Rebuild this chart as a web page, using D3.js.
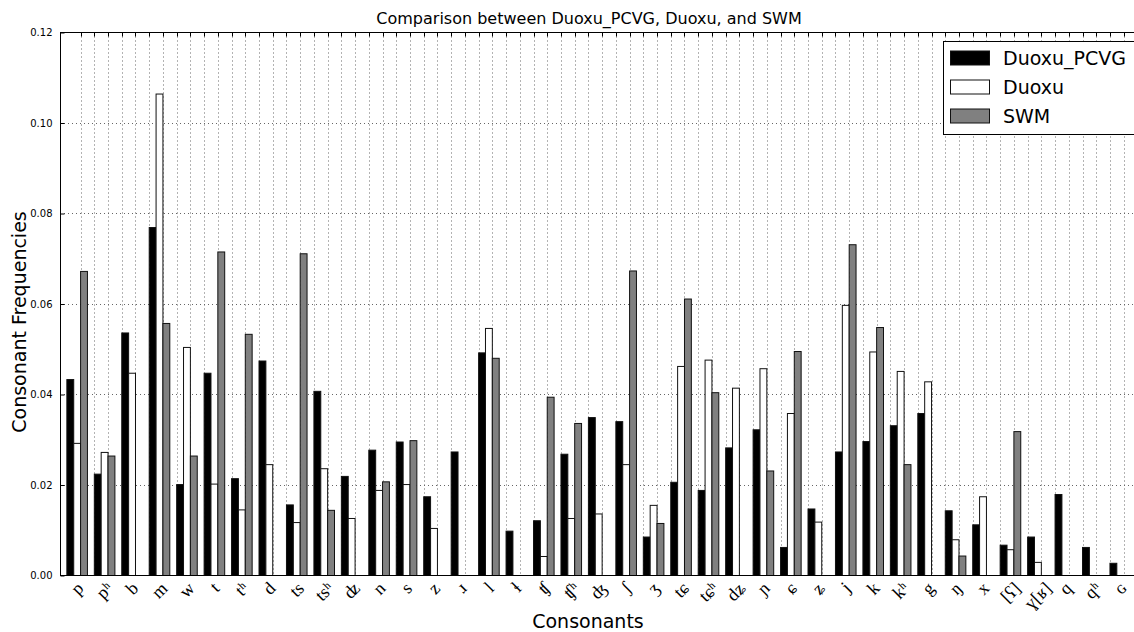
<!DOCTYPE html>
<html>
<head>
<meta charset="utf-8">
<script src="https://cdn.jsdelivr.net/npm/d3@7"></script>
<style>
  html, body { margin: 0; padding: 0; background: #fff; overflow: hidden; }
  svg { display: block; }
</style>
</head>
<body>
<svg id="chart" width="1134" height="632"></svg>
<script>
const categories = ["p","pʰ","b","m","w","t","tʰ","d","ts","tsʰ","ʣ","n","s","z","ɹ","l","ɬ","ʧ","ʧʰ","ʤ","ʃ","ʒ","tɕ","tɕʰ","dʑ","ɲ","ɕ","ʑ","j","k","kʰ","g","ŋ","x","[ʕ]","ɣ[ʁ]","q","qʰ","ɢ"];
const duoxuPCVG = [0.0433,0.0224,0.0536,0.0769,0.0201,0.0447,0.0214,0.0474,0.0156,0.0407,0.0219,0.0277,0.0295,0.0174,0.0273,0.0492,0.0098,0.0121,0.0268,0.0349,0.0340,0.0085,0.0206,0.0188,0.0282,0.0322,0.0062,0.0147,0.0273,0.0296,0.0331,0.0358,0.0143,0.0112,0.0067,0.0085,0.0179,0.0062,0.0027];
const duoxu = [0.0292,0.0272,0.0447,0.1064,0.0504,0.0202,0.0145,0.0245,0.0117,0.0236,0.0126,0.0188,0.0201,0.0104,0,0.0546,0,0.0042,0.0126,0.0136,0.0245,0.0155,0.0462,0.0476,0.0414,0.0457,0.0358,0.0118,0.0597,0.0494,0.0451,0.0428,0.0079,0.0174,0.0057,0.0029,0,0,0];
const swm = [0.0672,0.0264,0,0.0557,0.0264,0.0715,0.0533,0,0.0711,0.0144,0,0.0207,0.0298,0,0,0.0480,0,0.0394,0.0336,0,0.0673,0.0115,0.0611,0.0404,0,0.0231,0.0495,0,0.0731,0.0548,0.0245,0,0.0043,0,0.0318,0,0,0,0];
const seriesNames = ["Duoxu_PCVG","Duoxu","SWM"];
const seriesColors = ["#000000","#ffffff","#808080"];
const yTicks = [0,0.02,0.04,0.06,0.08,0.10,0.12];

const svg = d3.select("#chart");
const pLeft = 60, pTop = 32.5, pBottom = 575.5;
const unit = 27.45;
const xMaxUnit = 40;
const x = d3.scaleLinear().domain([0, xMaxUnit]).range([pLeft, pLeft + xMaxUnit * unit]);
const y = d3.scaleLinear().domain([0, 0.12]).range([pBottom, pTop]);
const barW = x(0.25) - x(0);

const gridColor = "#666";

// horizontal grid
svg.append("g").selectAll("line").data(yTicks.filter(d => d > 0 && d < 0.12)).join("line")
  .attr("x1", pLeft).attr("x2", 1134)
  .attr("y1", d => Math.round(y(d)) + 0.5).attr("y2", d => Math.round(y(d)) + 0.5)
  .attr("stroke", gridColor).attr("stroke-width", 1).attr("stroke-dasharray", "1,3");

// vertical grid positions (every half unit from 0.75)
const vPos = d3.range(0.75, categories.length, 0.5);
svg.append("g").selectAll("line").data(vPos).join("line")
  .attr("x1", d => Math.round(x(d)) + 0.5).attr("x2", d => Math.round(x(d)) + 0.5)
  .attr("y1", pTop).attr("y2", pBottom)
  .attr("stroke", gridColor).attr("stroke-width", 1).attr("stroke-dasharray", "1,3");

// bars
const series = [duoxuPCVG, duoxu, swm];
series.forEach((vals, s) => {
  svg.append("g").selectAll("rect").data(vals).join("rect")
    .attr("x", (d, i) => x(i + 0.25 + s * 0.25))
    .attr("width", barW)
    .attr("y", d => y(d))
    .attr("height", d => y(0) - y(d))
    .attr("fill", seriesColors[s])
    .attr("stroke", "#111")
    .attr("stroke-width", 1);
});

// spines
svg.append("line").attr("x1", pLeft + 0.5).attr("x2", pLeft + 0.5).attr("y1", pTop).attr("y2", pBottom + 0.5)
  .attr("stroke", "#000").attr("stroke-width", 1);
svg.append("line").attr("x1", pLeft).attr("x2", 1134).attr("y1", pTop).attr("y2", pTop)
  .attr("stroke", "#000").attr("stroke-width", 1);
svg.append("line").attr("x1", pLeft).attr("x2", 1134).attr("y1", pBottom).attr("y2", pBottom)
  .attr("stroke", "#000").attr("stroke-width", 1);

// y axis using d3 axis (inward ticks)
const yAxis = d3.axisLeft(y).tickValues(yTicks).tickFormat(d3.format(".2f")).tickSizeInner(-4).tickSizeOuter(0).tickPadding(8);
const gy = svg.append("g").attr("transform", `translate(${pLeft + 0.5},0)`).call(yAxis);
gy.select(".domain").remove();
gy.selectAll("text").attr("font-family", "DejaVu Sans").attr("font-size", 10).attr("fill", "#000");
gy.selectAll("line").attr("stroke", "#000");

// top ticks (inward)
svg.append("g").selectAll("line").data(vPos).join("line")
  .attr("x1", d => Math.round(x(d)) + 0.5).attr("x2", d => Math.round(x(d)) + 0.5)
  .attr("y1", pTop).attr("y2", pTop + 4)
  .attr("stroke", "#000").attr("stroke-width", 1);

// x category labels, rotated -45 and centered under each group
const lab = svg.append("g");
categories.forEach((c, i) => {
  const cx = x(i + 0.625);
  const t = lab.append("text")
    .text(c)
    .attr("font-family", "Liberation Serif, DejaVu Serif, serif")
    .attr("font-size", 18)
    .attr("text-anchor", "middle")
    .attr("dominant-baseline", "central")
    .attr("fill", "#000");
  const w = t.node().getComputedTextLength();
  const h = 12;
  const ext = (w + h) / (2 * Math.SQRT2);
  t.attr("transform", `translate(${cx},${581 + ext}) rotate(-45)`);
});

// title
svg.append("text").text("Comparison between Duoxu_PCVG, Duoxu, and SWM")
  .attr("x", 589).attr("y", 24).attr("text-anchor", "middle")
  .attr("font-family", "DejaVu Sans").attr("font-size", 16).attr("fill", "#000");

// axis titles
svg.append("text").text("Consonants")
  .attr("x", 588).attr("y", 628).attr("text-anchor", "middle")
  .attr("font-family", "DejaVu Sans").attr("font-size", 19).attr("fill", "#000");
svg.append("text").text("Consonant Frequencies")
  .attr("transform", "translate(26,322) rotate(-90)").attr("text-anchor", "middle")
  .attr("font-family", "DejaVu Sans").attr("font-size", 19).attr("fill", "#000");

// legend
const lg = svg.append("g");
lg.append("rect").attr("x", 943.5).attr("y", 41.5).attr("width", 220).attr("height", 93)
  .attr("fill", "#fff").attr("stroke", "#000").attr("stroke-width", 1);
seriesNames.forEach((n, k) => {
  const cy = 58 + k * 29;
  lg.append("rect").attr("x", 950.5).attr("y", cy - 7).attr("width", 39).attr("height", 14)
    .attr("fill", seriesColors[k]).attr("stroke", "#111").attr("stroke-width", 1);
  lg.append("text").text(n).attr("x", 1003).attr("y", cy + 7)
    .attr("font-family", "DejaVu Sans").attr("font-size", 19).attr("fill", "#000");
});
</script>
</body>
</html>
